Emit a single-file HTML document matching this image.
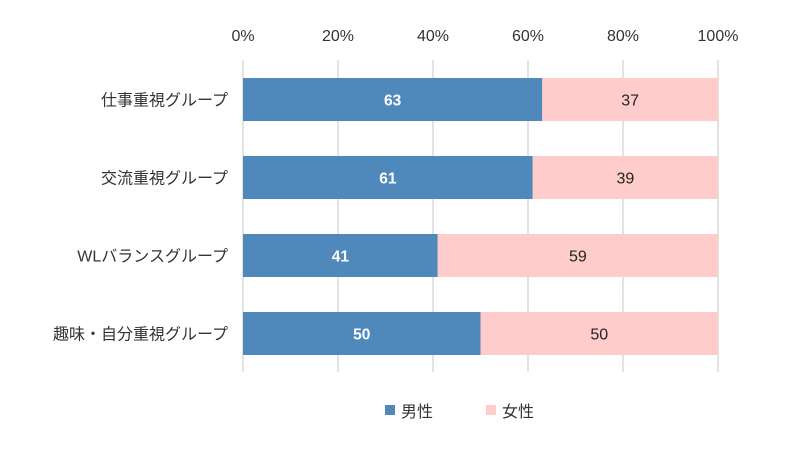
<!DOCTYPE html>
<html><head><meta charset="utf-8">
<style>
html,body{margin:0;padding:0;background:#fff;}
svg{display:block;font-family:"Liberation Sans","Noto Sans CJK JP",sans-serif;}
</style></head>
<body>
<svg id="chart" width="800" height="450"></svg>
<script>
const categories = ["仕事重視グループ","交流重視グループ","WLバランスグループ","趣味・自分重視グループ"];
const maleValues = [63,61,41,50];
const femaleValues = [37,39,59,50];
const tickValues = [0,20,40,60,80,100];
const seriesNames = ["男性","女性"];

const NS="http://www.w3.org/2000/svg";
const svgEl=document.getElementById('chart');
const x0=243,x1=718,gridTop=60,gridBottom=372,rowH=78,barH=43,firstBarTop=78;
function xs(v){return x0+(x1-x0)*v/100;}
function rowY(i){return firstBarTop+i*rowH;}
function mk(tag,attrs){const e=document.createElementNS(NS,tag);for(const k in attrs)e.setAttribute(k,attrs[k]);svgEl.appendChild(e);return e;}

tickValues.forEach(t=>{
  const g=mk('line',{x1:xs(t),x2:xs(t),y1:gridTop,y2:gridBottom,stroke:'#e3e3e3','stroke-width':2});
  
  
  const l=mk('text',{x:xs(t),y:41,'text-anchor':'middle','font-size':16,fill:'#333'});
  l.textContent=t+'%';
  
  
});

categories.forEach((c,i)=>{
  const y=rowY(i);
  const m=maleValues[i], f=femaleValues[i];
  const b1=mk('rect',{x:xs(0),y:y,width:xs(m)-xs(0),height:barH,fill:'#4f88bb'});
  
  
  const b2=mk('rect',{x:xs(m),y:y,width:xs(m+f)-xs(m),height:barH,fill:'#ffcccc'});
  
  
  const t1=mk('text',{x:(xs(0)+xs(m))/2,y:y+barH/2+6,'text-anchor':'middle','font-size':15.5,'font-weight':'bold',fill:'#fff'});
  t1.textContent=m;
  
  
  const t2=mk('text',{x:(xs(m)+xs(m+f))/2,y:y+barH/2+6,'text-anchor':'middle','font-size':16,fill:'#222'});
  t2.textContent=f;
  
  
  const cl=mk('text',{x:228,y:y+barH/2+6,'text-anchor':'end','font-size':16,fill:'#333'});
  cl.textContent=c;
  
  
});

const legendColors=['#4f88bb','#ffcccc'];
const legendX=[385,486];
seriesNames.forEach((s,i)=>{
  const r=mk('rect',{x:legendX[i],y:405,width:10,height:10,fill:legendColors[i]});
  
  
  const t=mk('text',{x:legendX[i]+16,y:417,'font-size':16,fill:'#333'});
  t.textContent=s;
  
  
});
</script>
</body></html>
